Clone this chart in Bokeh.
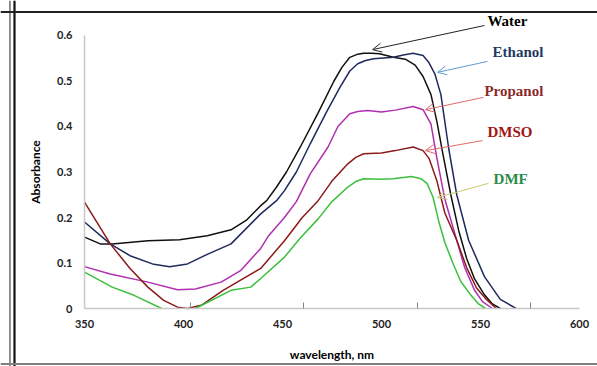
import math
from bokeh.plotting import figure
from bokeh.models import Range1d, FixedTicker, Label, Arrow, OpenHead, Span
from bokeh.embed import file_html
from bokeh.resources import INLINE

NAN = math.nan  # off-scale (below 0) readings

# ---- data ----
water_wl = [350, 358, 364, 382, 398, 412, 424, 432, 439, 442, 447, 452, 459, 468, 476, 480, 484, 488, 491, 495, 499, 506, 512, 517, 521, 525, 528, 531, 535, 539, 543, 547, 552, 556, 560]
water_ab = [0.157, 0.142, 0.142, 0.149, 0.151, 0.160, 0.173, 0.195, 0.226, 0.237, 0.267, 0.300, 0.355, 0.430, 0.500, 0.530, 0.552, 0.559, 0.561, 0.561, 0.560, 0.552, 0.548, 0.535, 0.510, 0.470, 0.410, 0.340, 0.250, 0.171, 0.110, 0.065, 0.030, 0.010, 0.0]

ethanol_wl = [350, 363, 373, 385, 393, 402, 412, 424, 439, 447, 451, 457, 464, 472, 479, 484, 488, 492, 496, 506, 511, 516, 521, 524, 527, 530, 534, 538, 544, 552, 560, 568]
ethanol_ab = [0.190, 0.142, 0.116, 0.097, 0.092, 0.098, 0.119, 0.142, 0.208, 0.237, 0.259, 0.300, 0.362, 0.430, 0.486, 0.522, 0.538, 0.545, 0.549, 0.552, 0.557, 0.561, 0.556, 0.540, 0.515, 0.470, 0.350, 0.250, 0.150, 0.070, 0.020, 0.0]

propanol_wl = [350, 363, 382, 397, 406, 419, 429, 439, 443, 451, 457, 464, 473, 478, 484, 488, 493, 500, 507, 516, 521, 525, 528, 532, 537, 542, 547, 551, 556]
propanol_ab = [0.092, 0.076, 0.058, 0.041, 0.043, 0.058, 0.084, 0.132, 0.160, 0.200, 0.235, 0.296, 0.355, 0.400, 0.428, 0.433, 0.435, 0.432, 0.436, 0.444, 0.437, 0.405, 0.330, 0.240, 0.165, 0.090, 0.040, 0.015, 0.0]

dmso_wl = [350, 363, 373, 382, 390, 397, 402, 409, 420, 439, 451, 460, 468, 475, 483, 487, 491, 500, 507, 516, 521, 524, 528, 532, 538, 543, 548, 553, 558]
dmso_ab = [0.234, 0.142, 0.088, 0.047, 0.018, 0.003, 0.0, 0.007, 0.040, 0.088, 0.149, 0.200, 0.237, 0.280, 0.318, 0.332, 0.340, 0.342, 0.347, 0.355, 0.347, 0.330, 0.280, 0.210, 0.150, 0.090, 0.045, 0.020, 0.0]

dmf_wl = [350, 364, 375, 389, 397, 406, 424, 434, 439, 451, 459, 468, 475, 483, 487, 491, 500, 506, 515, 520, 523, 526, 529, 532, 536, 540, 545, 549, 552.5]
dmf_ab = [0.080, 0.047, 0.029, 0.0, NAN, 0.0, 0.040, 0.047, 0.066, 0.113, 0.155, 0.197, 0.235, 0.267, 0.279, 0.285, 0.284, 0.285, 0.290, 0.285, 0.275, 0.245, 0.190, 0.145, 0.100, 0.060, 0.030, 0.010, 0.0]

x_ticks = [350, 400, 450, 500, 550, 600]
x_marks = [403.5, 460.8, 518.4, 575.5]
y_ticks = [0, 0.1, 0.2, 0.3, 0.4, 0.5, 0.6]
y_labels = ["0", "0.1", "0.2", "0.3", "0.4", "0.5", "0.6"]

names = ["Water", "Ethanol", "Propanol", "DMSO", "DMF"]
line_colors = ["#111111", "#1f2a5c", "#b02fb0", "#8b1a1a", "#3cbf3c"]
text_colors = ["#000000", "#1f3a63", "#8b2a2a", "#a31515", "#2a8a4a"]
arrow_colors = ["#222222", "#5b9bd5", "#e06a6a", "#e06a6a", "#c8c870"]
# annotation placement (data units)
label_x = [553.5, 556.1, 552.0, 553.5, 556.6]
label_y = [0.631, 0.563, 0.477, 0.389, 0.284]
arrow_from = [(552.0, 0.622), (553.5, 0.543), (551.5, 0.464), (551.0, 0.369), (554.0, 0.275)]
arrow_to = [(495.5, 0.569), (528.3, 0.519), (522.2, 0.437), (522.2, 0.347), (528.3, 0.244)]

series = [(water_wl, water_ab), (ethanol_wl, ethanol_ab), (propanol_wl, propanol_ab),
          (dmso_wl, dmso_ab), (dmf_wl, dmf_ab)]

# whole picture is the plotting frame; axes drawn at fixed positions inside it
p = figure(width=597, height=366, x_range=Range1d(307.58, 609.09), y_range=Range1d(-0.12747, 0.67692),
           output_backend="svg", toolbar_location=None, min_border=0)
p.grid.visible = False
p.outline_line_color = None
p.background_fill_color = "white"
p.border_fill_color = "white"

for (wl, ab), c in zip(series, line_colors):
    p.line(wl, ab, line_color=c, line_width=1.5)

xa = p.xaxis[0]
xa.fixed_location = 0
xa.bounds = (350, 600)
xa.ticker = FixedTicker(ticks=x_ticks, minor_ticks=x_marks)
xa.axis_line_color = "#c8c8c8"
xa.axis_line_width = 1.5
xa.major_tick_line_color = None
xa.minor_tick_line_color = "#888888"
xa.minor_tick_in = 6
xa.minor_tick_out = 0
xa.major_label_standoff = 5
xa.major_label_text_font = "Lato"
xa.major_label_text_font_style = "bold"
xa.major_label_text_font_size = "11px"
xa.major_label_text_color = "#222222"
xa.axis_label = "wavelength, nm"
xa.axis_label_text_font = "Lato"
xa.axis_label_text_font_style = "bold"
xa.axis_label_text_font_size = "12px"
xa.axis_label_text_color = "#000000"
xa.axis_label_standoff = 16

ya = p.yaxis[0]
ya.fixed_location = 350
ya.bounds = (0, 0.6)
ya.ticker = FixedTicker(ticks=y_ticks)
ya.major_label_overrides = {t: s for t, s in zip(y_ticks, y_labels)}
ya.axis_line_color = "#c8c8c8"
ya.axis_line_width = 1.5
ya.major_tick_line_color = None
ya.minor_tick_line_color = None
ya.major_label_standoff = 6
ya.major_label_text_font = "Lato"
ya.major_label_text_font_style = "bold"
ya.major_label_text_font_size = "11px"
ya.major_label_text_color = "#222222"
ya.axis_label = "Absorbance"
ya.axis_label_text_font = "Lato"
ya.axis_label_text_font_style = "bold"
ya.axis_label_text_font_size = "12px"
ya.axis_label_text_color = "#000000"
ya.axis_label_standoff = 11

for i, n in enumerate(names):
    (x0, y0), (x1, y1) = arrow_from[i], arrow_to[i]
    p.add_layout(Arrow(end=OpenHead(size=9, line_color=arrow_colors[i], line_width=1),
                       x_start=x0, y_start=y0, x_end=x1, y_end=y1,
                       line_color=arrow_colors[i], line_width=1))
    p.add_layout(Label(x=label_x[i], y=label_y[i], text=n, text_color=text_colors[i],
                       text_font="Liberation Serif", text_font_style="bold",
                       text_font_size="15px", text_baseline="middle", text_align="left"))

# decorative frame lines of the original picture
p.add_layout(Span(location=312.37, dimension="height", line_color="#222222", line_width=1))
p.add_layout(Span(location=314.65, dimension="height", line_color="#111111", line_width=2.2))
p.add_layout(Span(location=0.6516, dimension="width", line_color="#222222", line_width=2))
p.add_layout(Span(location=-0.12198, dimension="width", line_color="#808080", line_width=2))

open("out.html", "w").write(file_html(p, INLINE))
